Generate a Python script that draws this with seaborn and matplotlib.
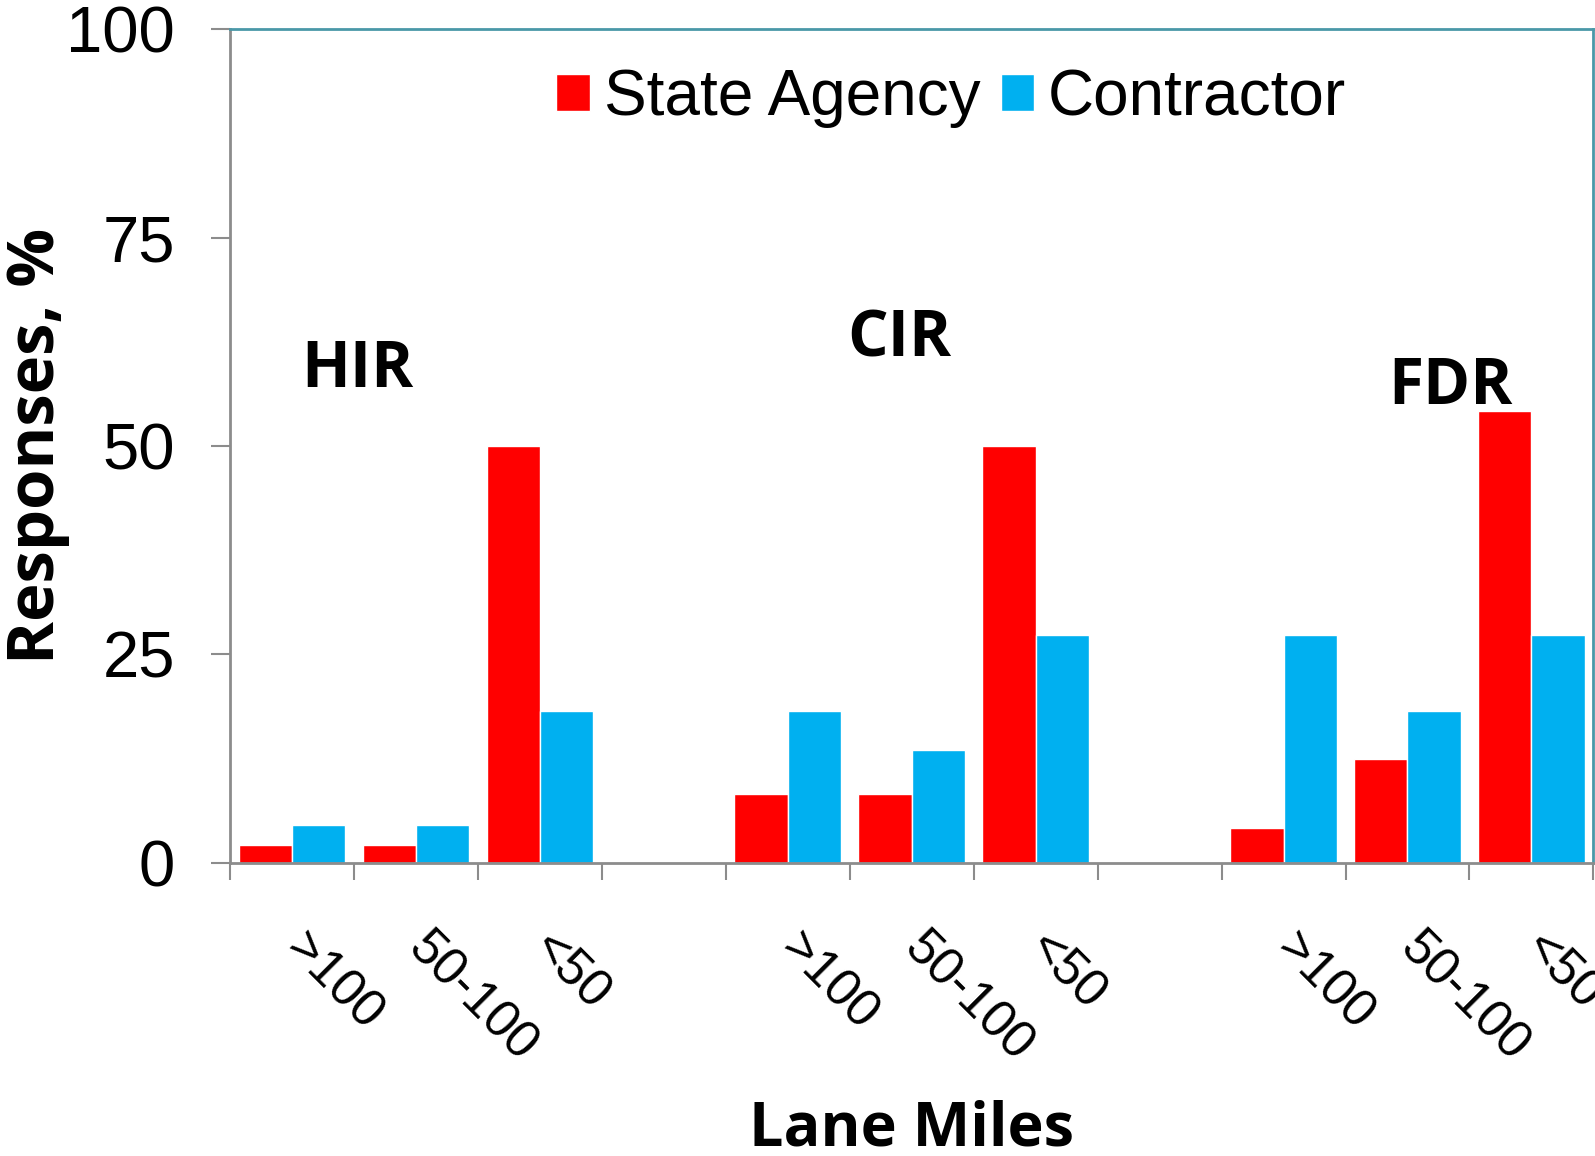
import pandas as pd
import matplotlib.pyplot as plt
import seaborn as sns

sns.set_style('white')
plt.rcParams['font.family'] = ['Liberation Sans', 'DejaVu Sans']
plt.rcParams['text.color'] = 'black'
plt.rcParams['axes.labelcolor'] = 'black'

# Data
slots = ['HIR >100', 'HIR 50-100', 'HIR <50', 'gap1',
         'CIR >100', 'CIR 50-100', 'CIR <50', 'gap2',
         'FDR >100', 'FDR 50-100', 'FDR <50']
tick_labels = ['>100', '50-100', '<50', '',
               '>100', '50-100', '<50', '',
               '>100', '50-100', '<50']
bar_slots = ['HIR >100', 'HIR 50-100', 'HIR <50',
             'CIR >100', 'CIR 50-100', 'CIR <50',
             'FDR >100', 'FDR 50-100', 'FDR <50']
state_agency = [2.1, 2.1, 50.0, 8.3, 8.3, 50.0, 4.2, 12.5, 54.2]
contractor = [4.5, 4.5, 18.2, 18.2, 13.6, 27.3, 27.3, 18.2, 27.3]
methods = ['HIR', 'CIR', 'FDR']
method_pos = [(0.53, 59.0), (4.9, 62.7), (9.35, 57.0)]

df = pd.DataFrame({
    'slot': bar_slots * 2,
    'value': state_agency + contractor,
    'who': ['State Agency'] * len(bar_slots) + ['Contractor'] * len(bar_slots),
})

bold_font = 'Open Sans'

fig = plt.figure(figsize=(15.95, 11.56), dpi=100)
ax = fig.add_axes([0.1442, 0.2535, 0.8548, 0.7214])

sns.barplot(data=df, x='slot', y='value', hue='who', order=slots,
            hue_order=['State Agency', 'Contractor'],
            palette=['#FF0000', '#00B0F0'], width=0.86,
            saturation=1, ax=ax, errorbar=None)

ax.set_xlim(-0.5, len(slots) - 0.5)
ax.set_ylim(0, 100)
ax.set_yticks([0, 25, 50, 75, 100])
ax.set_yticklabels(['0', '25', '50', '75', '100'], fontsize=47,
                   family='Liberation Sans')
ax.tick_params(axis='y', length=13.5, width=1.5, color='#8C8C8C',
               labelcolor='black', left=True, pad=26)

# labels at centres, tick marks at the boundaries
ax.set_xticks(range(len(slots)))
ax.tick_params(axis='x', which='major', length=0, pad=56, labelcolor='black')
ax.set_xticklabels(tick_labels, rotation=-45, ha='left', va='center',
                   rotation_mode='anchor', fontsize=37,
                   family='Liberation Sans')
ax.set_xticks([i - 0.5 for i in range(len(slots) + 1)], minor=True)
ax.tick_params(axis='x', which='minor', length=12, width=1.5,
               color='#8C8C8C', bottom=True)

for side in ['left', 'bottom']:
    ax.spines[side].set_color('#8C8C8C')
    ax.spines[side].set_linewidth(2)
for side in ['top', 'right']:
    ax.spines[side].set_color('#4A98A8')
    ax.spines[side].set_linewidth(2)

for name, (x, y) in zip(methods, method_pos):
    ax.text(x, y, name, ha='center', va='center', fontsize=46,
            fontweight='bold', family=bold_font)

ax.set_xlabel('Lane Miles', fontsize=44, fontweight='bold', family=bold_font)
ax.set_ylabel('Responses, %', fontsize=47, fontweight='bold', family=bold_font)
ax.xaxis.set_label_coords(0.5, -0.284)
ax.yaxis.set_label_coords(-0.117, 0.5)

ax.legend(loc='center', bbox_to_anchor=(0.529, 0.917), ncol=2, frameon=False,
          prop={'family': 'Liberation Sans', 'size': 46},
          handlelength=0.52, handleheight=0.52,
          handletextpad=0.22, columnspacing=0.32, borderaxespad=0)

fig.savefig('out.png', dpi=100)
